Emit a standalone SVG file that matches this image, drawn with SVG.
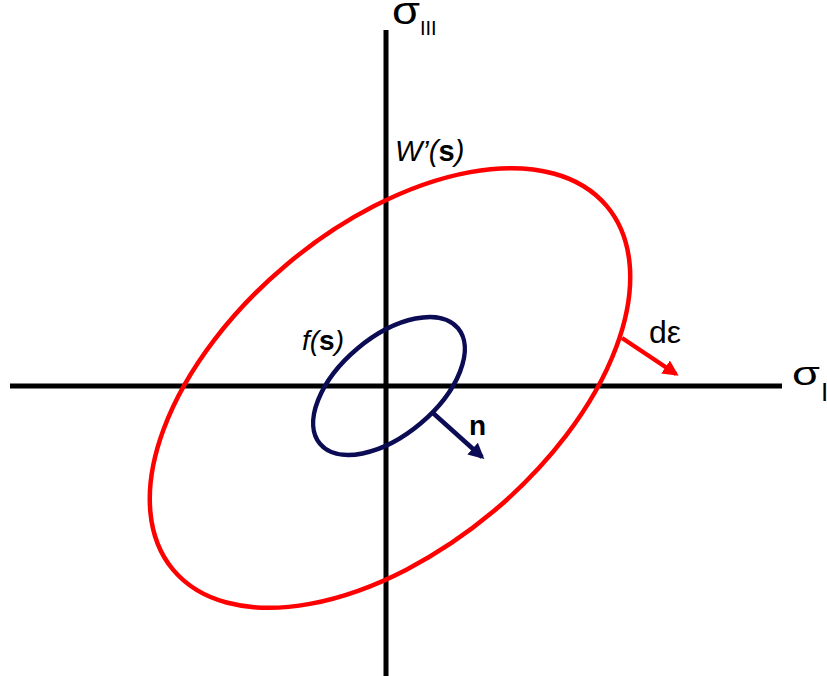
<svg xmlns="http://www.w3.org/2000/svg" width="827" height="676" viewBox="0 0 827 676">
<style>
.ax{stroke:#000;stroke-width:5;fill:none}
.red{stroke:#f00;stroke-width:4.5;fill:none}
.blue{stroke:#0c0c55;stroke-width:4.5;fill:none}
text{font-family:"Liberation Sans",Arial,sans-serif;fill:#000}
</style>
<defs>
<marker id="ar" viewBox="0 0 10 10" refX="8" refY="5" markerWidth="3.5" markerHeight="3.5" orient="auto"><path d="M0,0L10,5L0,10z" fill="#f00"/></marker>
<marker id="ab" viewBox="0 0 10 10" refX="8" refY="5" markerWidth="3.5" markerHeight="3.5" orient="auto"><path d="M0,0L10,5L0,10z" fill="#0c0c55"/></marker>
</defs>
<g id="axes">
<line class="ax" x1="386" y1="30" x2="386" y2="676"/>
<line class="ax" x1="10" y1="386" x2="782" y2="386"/>
</g>
<g id="W">
<ellipse class="red" cx="390" cy="388" rx="283" ry="161" transform="rotate(-40 390 388)"/>
</g>
<g id="f">
<ellipse class="blue" cx="389" cy="386" rx="90" ry="49" transform="rotate(-40 389 386)"/>
</g>
<g id="connectors">
<line class="red" x1="622" y1="338" x2="676" y2="374" marker-end="url(#ar)"/>
<line class="blue" x1="433" y1="413" x2="482" y2="457" marker-end="url(#ab)"/>
</g>
<g id="labels">
<text x="392" y="24" font-size="38"><tspan textLength="28" lengthAdjust="spacingAndGlyphs">σ</tspan><tspan font-size="20" dy="11">III</tspan></text>
<text x="792" y="385" font-size="34"><tspan textLength="28" lengthAdjust="spacingAndGlyphs">σ</tspan><tspan font-size="26" dx="1" dy="16">I</tspan></text>
<text x="395" y="161" font-size="29"><tspan font-style="italic">W’(</tspan><tspan font-weight="bold">s</tspan><tspan font-style="italic">)</tspan></text>
<text x="302" y="350" font-size="28"><tspan font-style="italic">f(</tspan><tspan font-weight="bold">s</tspan><tspan font-style="italic">)</tspan></text>
<text x="649" y="343" font-size="32">dε</text>
<text x="469" y="435" font-size="28" font-weight="bold">n</text>
</g>
</svg>
